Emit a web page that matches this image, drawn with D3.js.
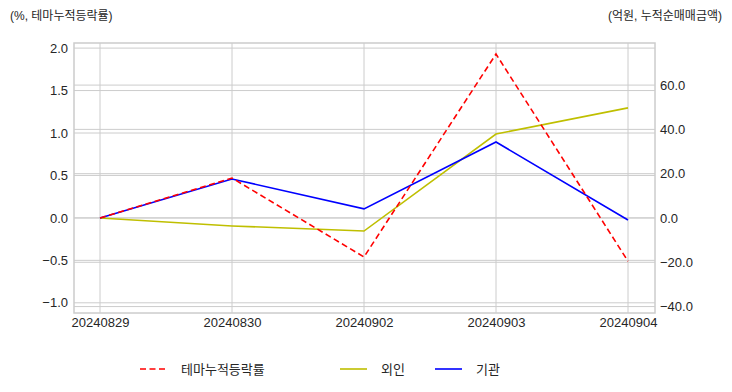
<!DOCTYPE html>
<html>
<head>
<meta charset="utf-8">
<script src="https://cdn.jsdelivr.net/npm/d3@7"></script>
<style>
  body { margin: 0; background: #fff; }
  svg text { font-family: "Liberation Sans", "Noto Sans CJK KR", sans-serif; fill: #262626; }
</style>
</head>
<body>
<div id="chart"></div>
<script>
/**
 * DATA
 **/
const dates = ["20240829", "20240830", "20240902", "20240903", "20240904"];
const themeReturn = [0.0, 0.47, -0.46, 1.93, -0.51];   // left axis, %
const foreign = [0.0, -3.6, -5.9, 37.9, 49.7];          // right axis, 억원
const institution = [0.0, 17.6, 4.1, 34.3, -0.9];       // right axis, 억원
const leftTicks = [-1.0, -0.5, 0.0, 0.5, 1.0, 1.5, 2.0];
const rightTicks = [-40, -20, 0, 20, 40, 60];

/**
 * CONSTANTS
 **/
const width = 732, height = 392,
  margin = { top: 43, right: 77, bottom: 80, left: 74 },
  gridColor = "#cccccc";

const svg = d3.select("#chart").append("svg")
  .attr("width", width).attr("height", height);

// SCALES
const xScale = d3.scalePoint()
  .domain(dates)
  .range([100, 628]);

const yLeft = d3.scaleLinear()
  .domain([-1.12, 2.06])
  .range([height - margin.bottom + 1, margin.top]);

const yRight = d3.scaleLinear()
  .domain([-42.9, 79])
  .range([height - margin.bottom + 1, margin.top]);

const x0 = margin.left, x1 = width - margin.right,
  yTop = margin.top, yBot = height - margin.bottom + 1;

// GRID (both axes draw their own, like a twin axis)
const grid = svg.append("g").attr("class", "grid")
  .attr("stroke", gridColor).attr("stroke-width", 1);

grid.selectAll("line.vx")
  .data(dates).join("line")
  .attr("class", "vx")
  .attr("x1", d => xScale(d)).attr("x2", d => xScale(d))
  .attr("y1", yTop).attr("y2", yBot);

grid.selectAll("line.hl")
  .data(leftTicks).join("line")
  .attr("class", "hl")
  .attr("x1", x0).attr("x2", x1)
  .attr("y1", d => yLeft(d)).attr("y2", d => yLeft(d));

grid.selectAll("line.hr")
  .data(rightTicks).join("line")
  .attr("class", "hr")
  .attr("x1", x0).attr("x2", x1)
  .attr("y1", d => yRight(d)).attr("y2", d => yRight(d));

// AXES
const leftAxis = svg.append("g")
  .attr("transform", `translate(${x0},0)`)
  .call(d3.axisLeft(yLeft).tickValues(leftTicks).tickFormat(d3.format(".1f")).tickSize(0).tickPadding(6));

const rightAxis = svg.append("g")
  .attr("transform", `translate(${x1},0)`)
  .call(d3.axisRight(yRight).tickValues(rightTicks).tickFormat(d3.format(".1f")).tickSize(0).tickPadding(5));

const bottomAxis = svg.append("g")
  .attr("transform", `translate(0,${yBot})`)
  .call(d3.axisBottom(xScale).tickSize(0).tickPadding(5));

[leftAxis, rightAxis, bottomAxis].forEach(a => {
  a.select(".domain").remove();
  a.selectAll("text").style("font-size", "13px");
});

// frame
svg.append("rect")
  .attr("x", x0).attr("y", yTop)
  .attr("width", x1 - x0).attr("height", yBot - yTop)
  .attr("fill", "none")
  .attr("stroke", gridColor)
  .attr("stroke-width", 1.5);

// LINES
const lineLeft = d3.line()
  .x((d, i) => xScale(dates[i]))
  .y(d => yLeft(d));

const lineRight = d3.line()
  .x((d, i) => xScale(dates[i]))
  .y(d => yRight(d));

svg.append("path")
  .datum(foreign)
  .attr("d", lineRight)
  .attr("fill", "none").attr("stroke", "#bfbf00").attr("stroke-width", 1.6);

svg.append("path")
  .datum(institution)
  .attr("d", lineRight)
  .attr("fill", "none").attr("stroke", "#0000ff").attr("stroke-width", 1.6);

svg.append("path")
  .datum(themeReturn)
  .attr("d", lineLeft)
  .attr("fill", "none").attr("stroke", "#ff0000").attr("stroke-width", 1.6)
  .attr("stroke-dasharray", "6,3.5");

// AXIS TITLES
svg.append("text")
  .attr("x", 10).attr("y", 20)
  .style("font-size", "12px")
  .text("(%, 테마누적등락률)");

svg.append("text")
  .attr("x", 722).attr("y", 20)
  .attr("text-anchor", "end")
  .style("font-size", "12px")
  .text("(억원, 누적순매매금액)");

// LEGEND
const legendItems = [
  { name: "테마누적등락률", color: "#ff0000", dash: "6,3.5", x: 140 },
  { name: "외인", color: "#bfbf00", dash: null, x: 340 },
  { name: "기관", color: "#0000ff", dash: null, x: 435 }
];

const legend = svg.selectAll("g.legend")
  .data(legendItems).join("g")
  .attr("class", "legend")
  .attr("transform", d => `translate(${d.x},369)`);

legend.append("line")
  .attr("x1", 0).attr("x2", 27)
  .attr("stroke", d => d.color)
  .attr("stroke-width", 1.6)
  .attr("stroke-dasharray", d => d.dash);

legend.append("text")
  .attr("x", 41).attr("dy", "0.35em")
  .style("font-size", "13px")
  .text(d => d.name);
</script>
</body>
</html>
